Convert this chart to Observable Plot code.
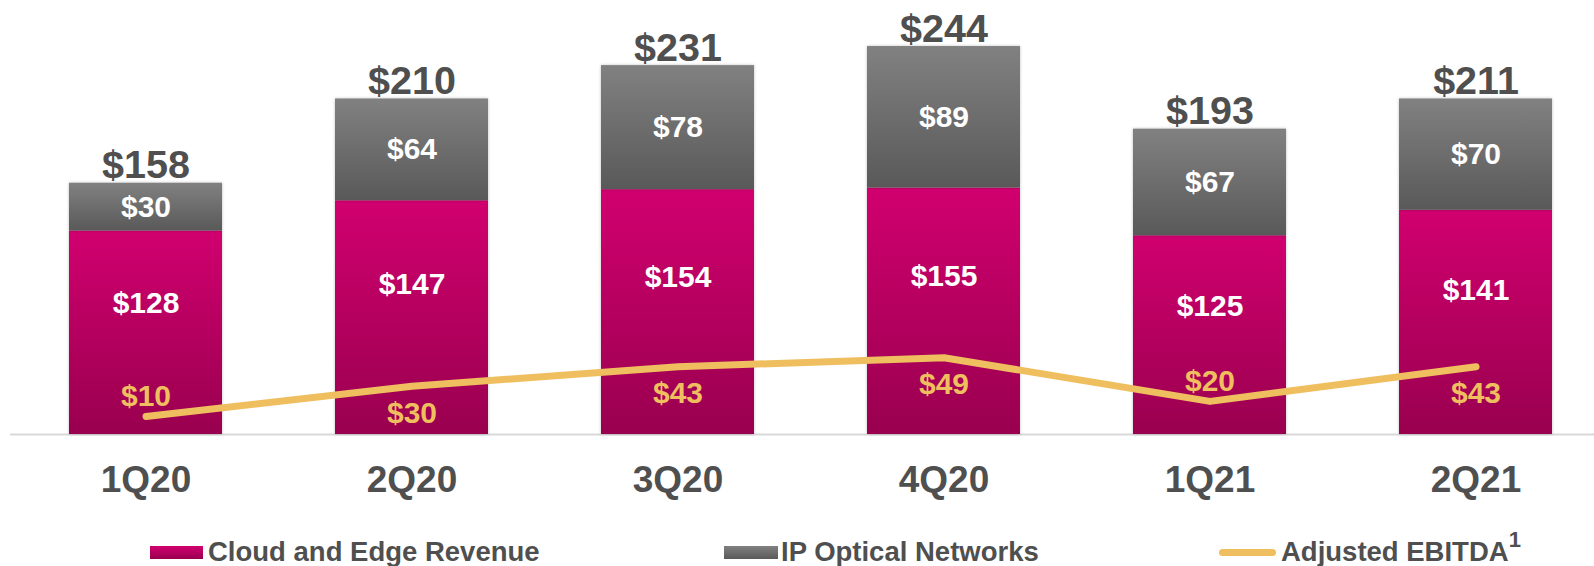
<!DOCTYPE html>
<html><head><meta charset="utf-8">
<script src="https://cdn.jsdelivr.net/npm/d3@7"></script>
<script src="https://cdn.jsdelivr.net/npm/@observablehq/plot@0.6"></script>
<style>
html,body{margin:0;padding:0;background:#fff;}
#wrap{position:relative;width:1594px;height:566px;overflow:hidden;font-family:"Liberation Sans",Arial,sans-serif;font-weight:bold;color:#4f4f4f;}
#chart svg{display:block;}
.sw{position:absolute;}
.lt{position:absolute;font-size:27.5px;line-height:28px;white-space:nowrap;top:538px;}
.sup{font-size:22px;position:relative;top:-14px;margin-left:0px;}
svg g[aria-label="bar"] rect{filter:drop-shadow(0 0 1.5px rgba(0,0,0,0.25));}
</style></head><body>
<div id="wrap">
  <div id="chart"></div>
  <div class="sw" style="left:150px;top:546px;width:53px;height:13px;background:linear-gradient(#d1006f,#99004f)"></div>
  <div class="lt" style="left:208px">Cloud and Edge Revenue</div>
  <div class="sw" style="left:724px;top:546px;width:54px;height:13px;background:linear-gradient(#808080,#5a5a5a)"></div>
  <div class="lt" style="left:781px">IP Optical Networks</div>
  <div class="sw" style="left:1219px;top:548.5px;width:57px;height:7px;border-radius:3.5px;background:#efbf5f"></div>
  <div class="lt" style="left:1281px">Adjusted EBITDA<span class="sup">1</span></div>
</div>
<script>
const quarters = ["1Q20","2Q20","3Q20","4Q20","1Q21","2Q21"];
const cloudEdge = [128,147,154,155,125,141];
const ipOptical = [30,64,78,89,67,70];
const totals = [158,210,231,244,193,211];
const ebitda = [10,30,43,49,20,43];
const ebitdaLabelSide = ["above","below","below","below","above","below"];

// secondary (EBITDA) axis mapped onto the revenue axis
const ebitdaAxis = d3.scaleLinear().domain([-2, 262]).range([0, 250]);

const rows = quarters.map((q, i) => ({
  q, cloud: cloudEdge[i], ip: ipOptical[i], total: totals[i],
  e: ebitda[i], eY: ebitdaAxis(ebitda[i]), side: ebitdaLabelSide[i]
}));

const defs = () => {
  const d = document.createElementNS("http://www.w3.org/2000/svg", "defs");
  d.innerHTML = `
    <linearGradient id="gPink" x1="0" y1="0" x2="0" y2="1">
      <stop offset="0" stop-color="#d1006f"/><stop offset="1" stop-color="#99004f"/>
    </linearGradient>
    <linearGradient id="gGray" x1="0" y1="0" x2="0" y2="1">
      <stop offset="0" stop-color="#818181"/><stop offset="1" stop-color="#595959"/>
    </linearGradient>`;
  return d;
};

const font = '"Liberation Sans", Arial, sans-serif';
const chart = Plot.plot({
  width: 1594, height: 520,
  marginLeft: 10, marginRight: 0, marginTop: 0, marginBottom: 86,
  x: {domain: quarters, range: [10, 1610], paddingInner: 0.426, paddingOuter: 0.213},
  y: {domain: [0, 250], range: [434, 434 - 250 * 1.59], axis: null},
  style: {fontFamily: font, background: "white"},
  marks: [
    defs,
    Plot.ruleY([0], {stroke: "#d9d9d9", strokeWidth: 2}),
    Plot.barY(rows, {x: "q", y1: 0, y2: "cloud", fill: "url(#gPink)"}),
    Plot.barY(rows, {x: "q", y1: "cloud", y2: d => d.cloud + d.ip, fill: "url(#gGray)"}),
    Plot.axisX({tickSize: 0, tickPadding: 31, fontSize: 37, fontWeight: "bold", color: "#4f4f4f", label: null}),
    Plot.text(rows, {x: "q", y: d => d.cloud + d.ip, text: d => "$" + d.total, lineAnchor: "bottom", dy: -5,
      fontSize: 39.5, fontWeight: "bold", fill: "#4f4f4f"}),
    Plot.text(rows, {x: "q", y: d => d.cloud + d.ip / 2, text: d => "$" + d.ip,
      fontSize: 30, fontWeight: "bold", fill: "white"}),
    Plot.text(rows, {x: "q", y: d => d.cloud * 0.643, text: d => "$" + d.cloud,
      fontSize: 30, fontWeight: "bold", fill: "white"}),
    Plot.text(rows.filter(d => d.side === "above"), {x: "q", y: "eY", dy: -20, text: d => "$" + d.e,
      fontSize: 30, fontWeight: "bold", fill: "#efbf5f"}),
    Plot.text(rows.filter(d => d.side === "below"), {x: "q", y: "eY", dy: 27, text: d => "$" + d.e,
      fontSize: 30, fontWeight: "bold", fill: "#efbf5f"}),
    Plot.line(rows, {x: "q", y: "eY", stroke: "#efbf5f", strokeWidth: 7,
      strokeLinecap: "round", strokeLinejoin: "round"})
  ]
});
document.getElementById("chart").appendChild(chart);
</script>
</body></html>
